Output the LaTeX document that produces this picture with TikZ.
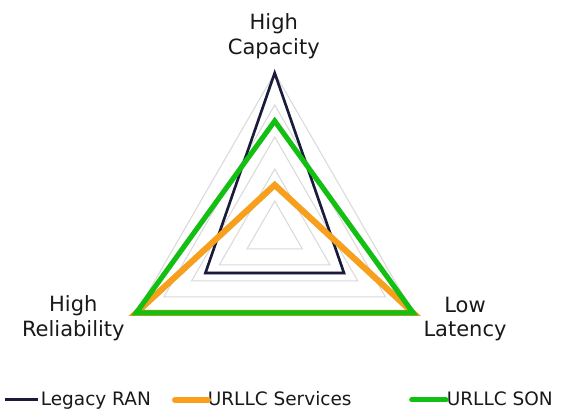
\documentclass[tikz,border=0pt]{standalone}
\usepackage{fontspec}
\setmainfont{DejaVu Sans}
\usetikzlibrary{calc}
\definecolor{navyc}{HTML}{1A1A3C}
\definecolor{orangec}{HTML}{F8A01C}
\definecolor{greenc}{HTML}{12C012}
\definecolor{gridc}{HTML}{D9D9D9}
\tikzset{
  gridline/.style={draw=gridc, line width=1pt},
  legacy/.style={draw=navyc, line width=2.6pt, line join=miter},
  services/.style={draw=orangec, line width=6pt, line join=miter},
  son/.style={draw=greenc, line width=5pt, line join=miter},
  shade/.style={draw=black, opacity=0.18},
  axislabel/.style={inner sep=0pt, anchor=base, font=\fontsize{21}{25}\selectfont, text=black!90},
  legendtext/.style={inner sep=0pt, anchor=base west, font=\fontsize{18.5}{22}\selectfont, text=black!90}
}
\begin{document}
\begin{tikzpicture}[x=1pt,y=1pt]
\useasboundingbox (0,0) rectangle (567,411);
\fill[white] (0,0) rectangle (567,411);
\coordinate (C) at (274.7,178);
% grid rings
\foreach \k in {1,...,5}{
  \draw[gridline, shift={(C)}] (90:32*\k) -- (210:32*\k) -- (-30:32*\k) -- cycle;
}
% data points
\coordinate (L1) at ($(C)+(90:160)$);
\coordinate (L2) at ($(C)+(-30:80)$);
\coordinate (L3) at ($(C)+(210:80)$);
\coordinate (S1) at ($(C)+(90:48)$);
\coordinate (S2) at ($(C)+(-30:160)$);
\coordinate (S3) at ($(C)+(210:160)$);
\coordinate (N1) at ($(C)+(90:112)$);
\coordinate (N2) at ($(C)+(-30:160)$);
\coordinate (N3) at ($(C)+(210:160)$);
% series (with faint shadow)
\draw[legacy, shade, shift={(0.8,-0.8)}] (L1) -- (L2) -- (L3) -- cycle;
\draw[legacy] (L1) -- (L2) -- (L3) -- cycle;
\draw[services, shade, shift={(0.8,-0.8)}] (S1) -- (S2) -- (S3) -- cycle;
\draw[services] (S1) -- (S2) -- (S3) -- cycle;
\draw[son, shade, shift={(0.8,-0.8)}] (N1) -- (N2) -- (N3) -- cycle;
\draw[son] (N1) -- (N2) -- (N3) -- cycle;
% axis labels
\node[axislabel] (cap1) at (273.8,381) {High};
\node[axislabel] (cap2) at (273.8,356.3) {Capacity};
\node[axislabel] (rel1) at (73.3,99.3) {High};
\node[axislabel] (rel2) at (73.3,74.5) {Reliability};
\node[axislabel] (lat1) at (465,98.8) {Low};
\node[axislabel] (lat2) at (465,74.5) {Latency};
% legend
\node[legendtext] (t1) at (40.6,5) {Legacy RAN};
\node[legendtext] (t2) at (207.6,5) {URLLC Services};
\node[legendtext] (t3) at (446.6,5) {URLLC SON};
\coordinate (a1) at (5,11);
\coordinate (b1) at (38,11);
\coordinate (a2) at (175,11);
\coordinate (b2) at (208,11);
\coordinate (a3) at (411.7,11);
\coordinate (b3) at (446,11);
\draw[draw=navyc, line width=3pt] (a1) -- (b1);
\draw[draw=orangec, line width=6pt, line cap=round] (a2) -- (b2);
\draw[draw=greenc, line width=5pt, line cap=round] (a3) -- (b3);
\end{tikzpicture}
\end{document}
